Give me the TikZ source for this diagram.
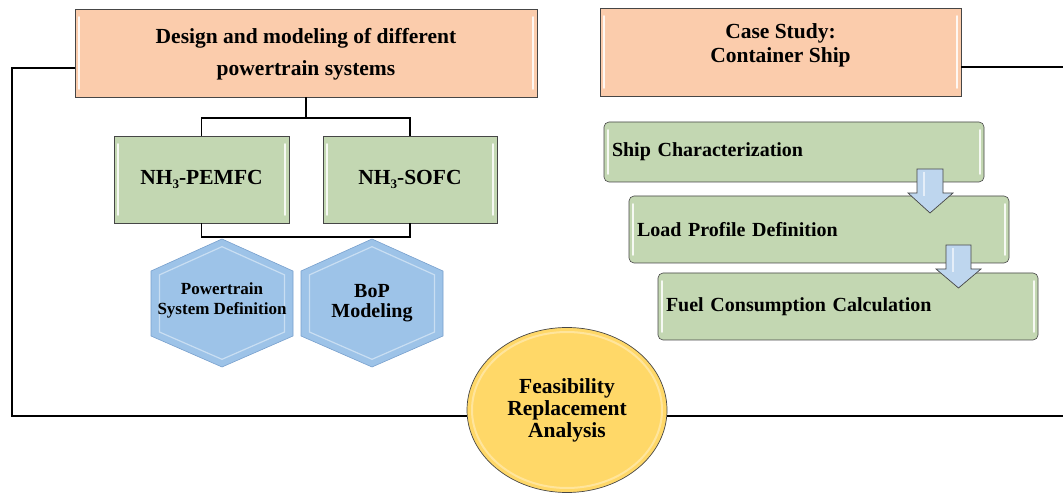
\documentclass[tikz,border=0pt]{standalone}
\usepackage{fontspec}
\setmainfont{Liberation Serif}
\usetikzlibrary{shapes.geometric,calc}
\definecolor{peach}{RGB}{251,204,172}
\definecolor{sage}{RGB}{195,215,178}
\definecolor{hexblue}{RGB}{157,195,232}
\definecolor{hexedge}{RGB}{120,160,205}
\definecolor{gold}{RGB}{255,216,104}
\definecolor{arrowblue}{RGB}{190,214,238}
\definecolor{edgegray}{RGB}{70,70,70}
\tikzset{
  shine/.style={path picture={
    \draw[white,line width=1.6pt,opacity=0.85,line cap=round]
      ([xshift=4pt,yshift=-8pt]path picture bounding box.north west) --
      ([xshift=4pt,yshift=8pt]path picture bounding box.south west);
    \draw[white,line width=1.6pt,opacity=0.85,line cap=round]
      ([xshift=-4pt,yshift=-8pt]path picture bounding box.north east) --
      ([xshift=-4pt,yshift=8pt]path picture bounding box.south east);}},
  titlebox/.style={draw=edgegray,line width=0.6pt,fill=peach,shine,inner sep=0pt},
  fcbox/.style={draw=edgegray,line width=0.6pt,fill=sage,shine,inner sep=0pt,
    font=\fontsize{21.5}{24}\selectfont\bfseries},
  stepbox/.style={draw=edgegray,line width=0.6pt,fill=sage,rounded corners=5pt,shine,
    minimum height=#1,text width=364pt,inner xsep=8pt,inner ysep=0pt,align=left,
    font=\fontsize{20}{22}\selectfont\bfseries},
  titletext/.style={align=center,inner sep=0pt,font=\fontsize{21.5}{32}\selectfont\bfseries},
  loopline/.style={line width=2pt,black},
  bracket/.style={line width=1.3pt,black},
  blockarrow/.style={draw=edgegray,line width=0.7pt,fill=arrowblue},
  hexfill/.style={fill=hexblue,draw=hexedge,line width=0.6pt},
  hexbevel/.style={draw=white,opacity=0.45,line width=1.2pt},
}
\newcommand{\subthree}{\raisebox{-0.35ex}{\fontsize{13}{13}\selectfont 3}}
\begin{document}
\begin{tikzpicture}[x=1pt,y=-1pt]
\useasboundingbox (0,0) rectangle (1063,494);

% title boxes
\node[titlebox,minimum width=462pt,minimum height=88pt] (design) at (306,53) {};
\node[titletext] (designtxt) at (306,54) {Design and modeling of different\\powertrain systems};
\node[titlebox,minimum width=361pt,minimum height=88pt] (case) at (780.5,52) {};
\node[titletext,font=\fontsize{21.5}{24}\selectfont\bfseries] (casetxt) at (780.5,45) {Case Study:\\Container Ship};

% fuel cell boxes
\node[fcbox,minimum width=175pt,minimum height=87pt] (pem) at (201.5,179.5) {NH\subthree-PEMFC};
\node[fcbox,minimum width=174pt,minimum height=87pt] (sofc) at (410,179.5) {NH\subthree-SOFC};

% brackets
\coordinate (top) at (306,118);
\coordinate (bot) at (306,237);
\draw[bracket] (design.south) -- (top);
\draw[bracket] (pem.north) -- (pem.north |- top) -- (sofc.north |- top) -- (sofc.north);
\draw[bracket] (pem.south) -- (pem.south |- bot) -- (sofc.south |- bot) -- (sofc.south);

% hexagons
\foreach \cx/\nm in {222/hexA,372/hexB}{
  \begin{scope}[shift={(\cx,303)}]
    \draw[hexfill] (0,-64) -- (71,-32) -- (71,33) -- (0,64) -- (-71,33) -- (-71,-32) -- cycle;
    \draw[hexbevel,scale=0.88] (0,-64) -- (71,-32) -- (71,33) -- (0,64) -- (-71,33) -- (-71,-32) -- cycle;
  \end{scope}
}
\node[align=center,inner sep=0pt,font=\fontsize{17}{20}\selectfont\bfseries] (powertrain) at (222,300) {Powertrain\\System Definition};
\node[align=center,inner sep=0pt,font=\fontsize{20}{20}\selectfont\bfseries] (bop) at (372,303) {BoP\\Modeling};

% case study steps
\node[stepbox=60pt] (ship) at (794,152) {Ship Characterization};
\node[stepbox=67pt] (load) at (819,229.5) {Load Profile Definition};
\node[stepbox=67pt] (fuel) at (848,306.5) {Fuel Consumption Calculation};

% block arrows
\draw[blockarrow] (917,169) -- (943,169) -- (943,193) -- (953,193) -- (930,213) -- (908,193) -- (917,193) -- cycle;
\draw[white,opacity=0.6,line width=1.2pt] (924,172) -- (924,196);
\draw[blockarrow] (946,245) -- (971,245) -- (971,269) -- (981,269) -- (958.5,288) -- (936,269) -- (946,269) -- cycle;
\draw[white,opacity=0.6,line width=1.2pt] (953,248) -- (953,272);

% feasibility circle
\node[ellipse,draw=edgegray,line width=0.7pt,fill=gold,minimum width=200pt,minimum height=165pt,inner sep=0pt,
  align=center,font=\fontsize{21.5}{22}\selectfont\bfseries] (feas) at (567,410) {Feasibility\\Replacement\\Analysis};
\draw[white,opacity=0.35,line width=2pt] (567,410) ellipse [x radius=95pt,y radius=78pt];

% loop lines
\coordinate (cornerTL) at (12,68);
\coordinate (cornerBL) at (12,416);
\coordinate (endR1) at (1063,67);
\coordinate (endR2) at (1063,416);
\draw[loopline] (design.west |- cornerTL) -- (cornerTL) -- (cornerBL) -- (feas.west |- cornerBL);
\draw[loopline] (feas.east |- endR2) -- (endR2);
\draw[loopline] (case.east |- endR1) -- (endR1);
\end{tikzpicture}
\end{document}
